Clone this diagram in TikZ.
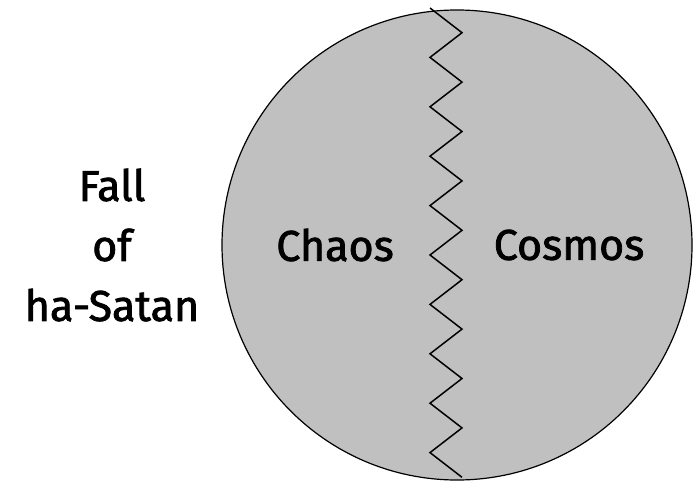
\documentclass[tikz,border=0pt]{standalone}
\usepackage{fontspec}
\setmainfont{Fira Sans}
\newfontfamily\lblfont[FakeBold=1.8]{Fira Sans}
\definecolor{discgray}{HTML}{C0C0C0}
\tikzset{lbl/.style={font=\lblfont\fontsize{43}{60}\selectfont}}
\begin{document}
\begin{tikzpicture}[x=1pt,y=-1pt]
\useasboundingbox (0,0) rectangle (700,489);
% the disc
\draw[fill=discgray,line width=1.2pt] (457,245) circle (235);
% the rift
\draw[line width=1.5pt] (430,8)
  \foreach \i in {1,...,19}{
    -- ({ifthenelse(mod(\i,2)==1,462,430)},{8+\i*24.7})
  };
\node[lbl] (chaos) at (335,245) {Chaos};
\node[lbl] (cosmos) at (569,245) {Cosmos};
\node[lbl,align=center] (fall) at (112,245) {Fall\\of\\ha-Satan};
\end{tikzpicture}
\end{document}
